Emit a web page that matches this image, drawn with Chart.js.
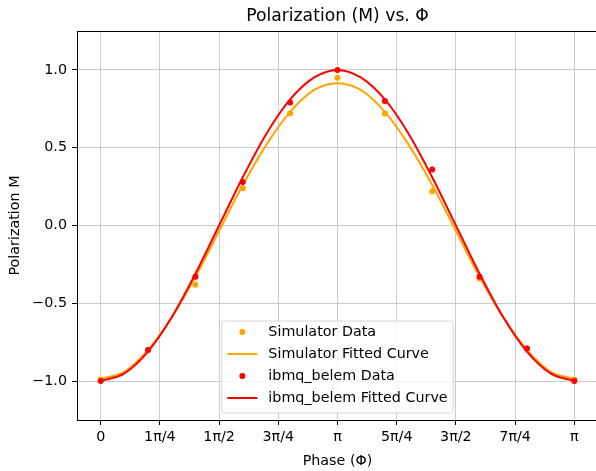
<!DOCTYPE html>
<html>
<head>
<meta charset="utf-8">
<script src="https://cdn.jsdelivr.net/npm/chart.js@4.4.1/dist/chart.umd.min.js"></script>
<style>
    body { margin: 0; background: #fff; overflow: hidden; }
    #wrap { position: relative; width: 602px; height: 471px; }
</style>
</head>
<body>
<div id="wrap"><canvas id="polChart" width="602" height="471"></canvas></div>
<script>
// --- DATA (phase in units of π) ---
const phase = [0, 0.2, 0.4, 0.6, 0.8, 1.0, 1.2, 1.4, 1.6, 1.8, 2.0];
const simData = [-0.99, -0.80, -0.38, 0.24, 0.72, 0.95, 0.72, 0.22, -0.34, -0.79, -0.99];
const belemData = [-1.00, -0.80, -0.33, 0.28, 0.79, 1.00, 0.80, 0.36, -0.33, -0.79, -1.00];

const fitPhase = [0, 0.1, 0.2, 0.3, 0.4, 0.5, 0.6, 0.7, 0.8, 0.9, 1.0,
                  1.1, 1.2, 1.3, 1.4, 1.5, 1.6, 1.7, 1.8, 1.9, 2.0];
const simFit = [-0.985, -0.94, -0.80, -0.59, -0.33, -0.035, 0.26, 0.52, 0.73, 0.87, 0.915,
                0.87, 0.73, 0.52, 0.26, -0.035, -0.33, -0.59, -0.80, -0.94, -0.985];
const belemFit = [-1.0, -0.95, -0.81, -0.59, -0.31, 0.0, 0.31, 0.59, 0.81, 0.95, 1.0,
                  0.95, 0.81, 0.59, 0.31, 0.0, -0.31, -0.59, -0.81, -0.95, -1.0];

const xTickValues = [0, 0.25, 0.5, 0.75, 1.0, 1.25, 1.5, 1.75, 2.0];
const xTickLabels = ['0', '1π/4', '1π/2', '3π/4', 'π', '5π/4', '3π/2', '7π/4', 'π'];
const yTickValues = [-1.0, -0.5, 0.0, 0.5, 1.0];

const chartTitle = 'Polarization (M) vs. Φ';
const FONT = 'DejaVu Sans';
const FS = 14.3;
const pts = (xs, ys) => xs.map((x, i) => ({ x: x, y: ys[i] }));

// --- PLUGIN: title over plot, top/right spines, matplotlib style legend ---
const framePlugin = {
    id: 'frame',
    afterDraw(chart) {
        const ctx = chart.ctx;
        const a = chart.chartArea;
        ctx.save();
        ctx.strokeStyle = '#000';
        ctx.lineWidth = 1;
        ctx.beginPath();
        ctx.moveTo(a.left, a.top + 0.5);
        ctx.lineTo(a.right, a.top + 0.5);
        ctx.lineTo(a.right, a.bottom);
        ctx.stroke();

        // title centred over the axes
        ctx.fillStyle = '#000';
        ctx.font = '17.2px "' + FONT + '"';
        ctx.textAlign = 'center';
        ctx.textBaseline = 'middle';
        ctx.fillText(chartTitle, (a.left + a.right) / 2, 17);

        // legend, lower center
        ctx.font = FS + 'px "' + FONT + '"';
        const sets = chart.data.datasets;
        let maxW = 0;
        sets.forEach(d => { maxW = Math.max(maxW, ctx.measureText(d.label).width); });
        const pad = 5.6, handle = 30, gap = 11;
        const w = pad + handle + gap + maxW + pad;
        const h = 92;
        const x0 = (a.left + a.right) / 2 - w / 2;
        const y0 = a.bottom - 7 - h;
        ctx.beginPath();
        ctx.roundRect(x0, y0, w, h, 3);
        ctx.fillStyle = 'rgba(255,255,255,0.8)';
        ctx.fill();
        ctx.strokeStyle = '#d6d6d6';
        ctx.stroke();
        sets.forEach((d, i) => {
            const cy = y0 + 11 + i * 22;
            const hx = x0 + pad;
            if (d.showLine === false) {
                ctx.beginPath();
                ctx.arc(hx + handle / 2, cy, 3, 0, Math.PI * 2);
                ctx.fillStyle = d.backgroundColor;
                ctx.fill();
            } else {
                ctx.beginPath();
                ctx.moveTo(hx, cy);
                ctx.lineTo(hx + handle, cy);
                ctx.strokeStyle = d.borderColor;
                ctx.lineWidth = 2;
                ctx.stroke();
            }
            ctx.fillStyle = '#000';
            ctx.textBaseline = 'middle';
            ctx.textAlign = 'left';
            ctx.fillText(d.label, hx + handle + gap, cy);
        });
        ctx.restore();
    }
};

new Chart(document.getElementById('polChart'), {
    type: 'line',
    data: {
        datasets: [
            {
                label: 'Simulator Data',
                data: pts(phase, simData),
                showLine: false,
                backgroundColor: '#FFA500',
                borderColor: '#FFA500',
                pointRadius: 3,
                pointBorderWidth: 0,
                order: 4
            },
            {
                label: 'Simulator Fitted Curve',
                data: pts(fitPhase, simFit),
                borderColor: '#FFA500',
                borderWidth: 2,
                pointRadius: 0,
                cubicInterpolationMode: 'monotone',
                order: 3
            },
            {
                label: 'ibmq_belem Data',
                data: pts(phase, belemData),
                showLine: false,
                backgroundColor: '#FF0000',
                borderColor: '#FF0000',
                pointRadius: 3,
                pointBorderWidth: 0,
                order: 2
            },
            {
                label: 'ibmq_belem Fitted Curve',
                data: pts(fitPhase, belemFit),
                borderColor: '#FF0000',
                borderWidth: 2,
                pointRadius: 0,
                cubicInterpolationMode: 'monotone',
                order: 1
            }
        ]
    },
    options: {
        responsive: false,
        animation: false,
        layout: { padding: { left: 0, right: 0, top: 31, bottom: 0 } },
        plugins: {
            legend: { display: false },
            tooltip: { enabled: false },
            title: { display: false }
        },
        scales: {
            x: {
                type: 'linear',
                min: -0.1,
                max: 2.1,
                afterBuildTicks: s => { s.ticks = xTickValues.map(v => ({ value: v })); },
                afterFit: s => { s.height = 51; },
                ticks: {
                    autoSkip: false,
                    maxRotation: 0,
                    padding: 4,
                    color: '#000',
                    font: { family: FONT, size: FS },
                    callback: (v, i) => xTickLabels[i]
                },
                grid: { color: '#cbcbcb', lineWidth: 1, tickColor: '#000', tickLength: 5 },
                border: { color: '#000', width: 1 },
                title: {
                    display: true,
                    text: 'Phase (Φ)',
                    color: '#000',
                    font: { family: FONT, size: FS, lineHeight: 1.2 },
                    padding: { top: 2, bottom: 1 }
                }
            },
            y: {
                min: -1.25,
                max: 1.25,
                afterBuildTicks: s => { s.ticks = yTickValues.map(v => ({ value: v })); },
                afterFit: s => { s.width = 77; },
                ticks: {
                    padding: 5,
                    color: '#000',
                    font: { family: FONT, size: FS },
                    callback: v => v.toFixed(1).replace('-', '\u2212')
                },
                grid: { color: '#cbcbcb', lineWidth: 1, tickColor: '#000', tickLength: 5 },
                border: { color: '#000', width: 1 },
                title: {
                    display: true,
                    text: 'Polarization M',
                    color: '#000',
                    font: { family: FONT, size: FS, lineHeight: 1.2 },
                    padding: { top: 6.5, bottom: 0 }
                }
            }
        }
    },
    plugins: [framePlugin]
});
</script>
</body>
</html>
